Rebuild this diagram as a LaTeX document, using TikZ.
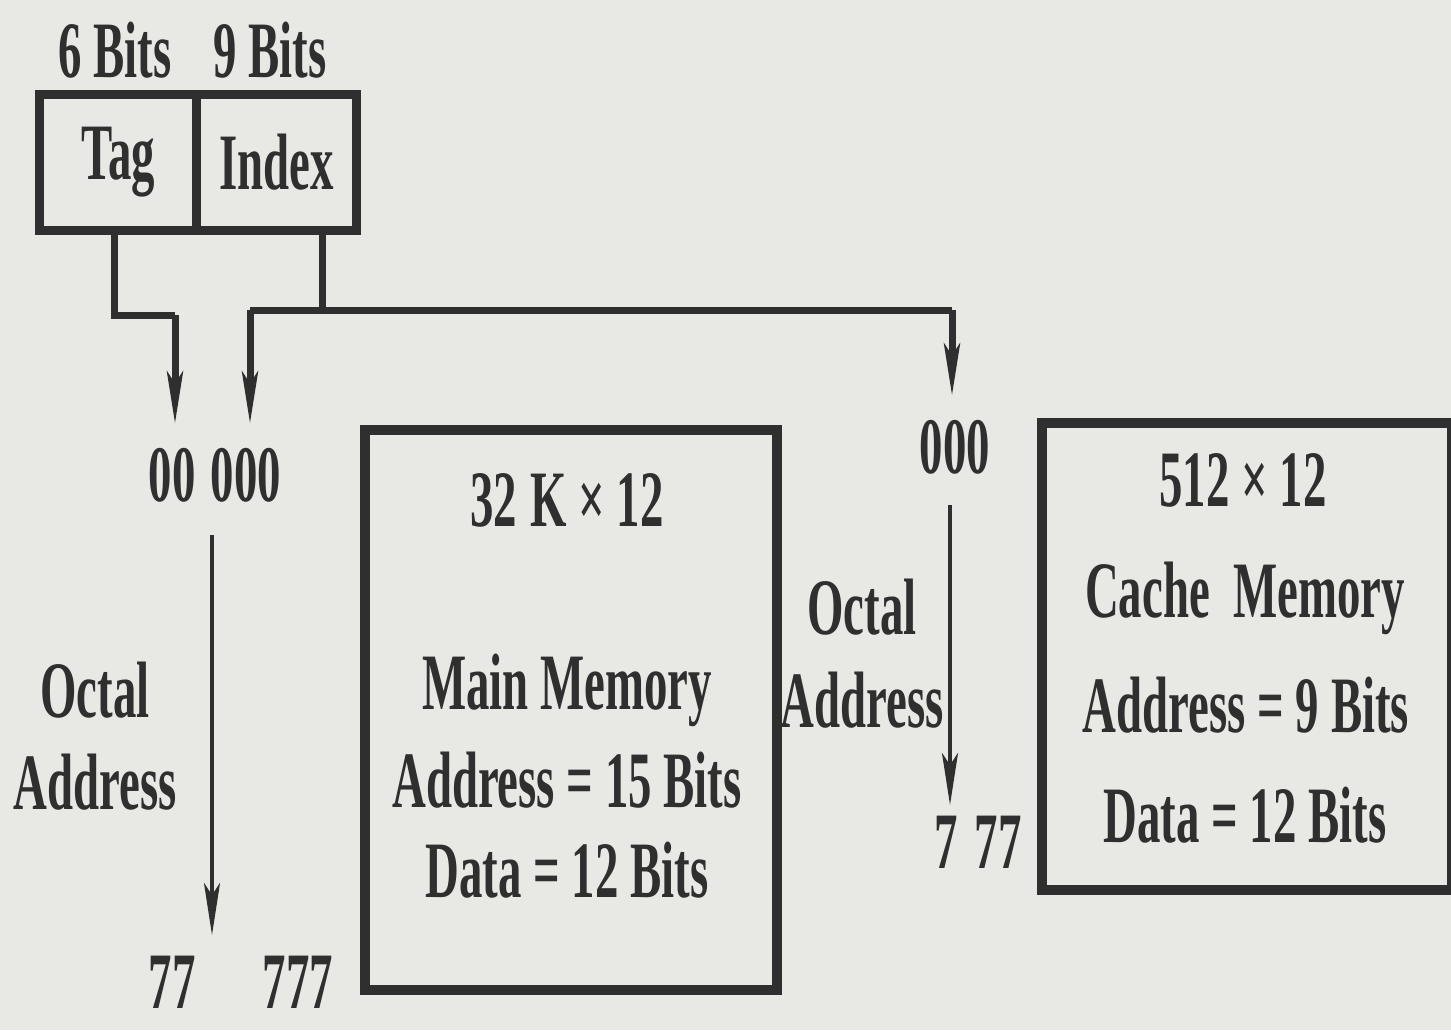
\documentclass[tikz,border=0pt]{standalone}
\usepackage{fontspec}
\setmainfont{Liberation Serif}[FakeStretch=0.585]
\usetikzlibrary{arrows.meta,positioning}

\definecolor{paper}{HTML}{E8E8E5}
\definecolor{ink}{HTML}{2F2F2F}

\tikzset{
  txt/.style={font={\fontsize{40}{45}\selectfont\bfseries}, text=ink, inner sep=0pt},
  field/.style={draw=ink, line width=4.5pt, rectangle, anchor=north west,
    minimum height=68pt, inner sep=0pt, font={\fontsize{40}{45}\selectfont\bfseries}, text=ink},
  membox/.style={draw=ink, line width=5pt, rectangle, anchor=north west, inner sep=0pt},
  bus/.style={draw=ink, line width=3.5pt},
  arrowend/.style={-{Stealth[length=26pt,width=8pt,inset=6pt]}},
  rangeline/.style={draw=ink, line width=2.2pt}
}

\begin{document}
\begin{tikzpicture}[x=0.5pt, y=-0.5pt]

\fill[paper] (0,0) rectangle (1451,1030);
\useasboundingbox (0,0) rectangle (1451,1030);

% address word
\node [field, minimum width=78.5pt] (tag) at (35,90) {Tag};
\node [field, minimum width=80pt] (index) at (192,90) {Index};

\node [txt] (tagbits) at (115,50) {6 Bits};
\node [txt] (idxbits) at (270,50) {9 Bits};

% main memory side
\node [txt] (mm0a) at (172,475) {00};
\node [txt] (mm0b) at (246,475) {000};
\node [txt] (mmendA) at (172,982) {77};
\node [txt] (mmendB) at (298,982) {777};

\node [txt] (moct) at (95,690) {Octal};
\node [txt] (maddr) at (95,782) {Address};

\coordinate (mtop) at (212,535);
\coordinate (mbot) at (212,935);
\draw [rangeline, arrowend] (mtop) -- (mbot);

\node [membox, minimum width=206pt, minimum height=280pt] (mainmem) at (360,425) {};

\node [txt] (mmsize) at (567,500) {32\,K × 12};
\node [txt] (mmname) at (567,690) {Main Memory};
\node [txt] (mmaddr) at (567,780) {Address = 15 Bits};
\node [txt] (mmdata) at (567,870) {Data = 12 Bits};

% cache side
\node [txt] (coct) at (862,607) {Octal};
\node [txt] (caddr) at (862,700) {Address};

\node [txt] (c0) at (955,447) {000};
\node [txt] (cendA) at (946,842) {7};
\node [txt] (cendB) at (998,842) {77};

\coordinate (ctop) at (950,505);
\coordinate (cbot) at (950,805);
\draw [rangeline, arrowend] (ctop) -- (cbot);

\node [membox, minimum width=205pt, minimum height=233.5pt] (cache) at (1037,418) {};

\node [txt] (csize) at (1243,480) {512 × 12};
\node [txt] (cname) at (1245,598) {Cache\ \ Memory};
\node [txt] (caddrb) at (1246,705) {Address = 9 Bits};
\node [txt] (cdata) at (1245,815) {Data = 12 Bits};

% connectors
\coordinate (tagbend) at (175,315);
\coordinate (busleft) at (250,310);
\coordinate (busright) at (952,310);

\draw [bus] ([xshift=-2pt]tag.south) |- (tagbend);
\draw [bus, arrowend] (tagbend) -- ([yshift=12pt]mm0a.north -| tagbend);

\draw [bus] ([xshift=23pt]index.south) -- ([xshift=23pt]index.south |- busleft);
\draw [bus] (busleft) -- (busright);
\draw [bus, arrowend] (busleft) -- ([yshift=12pt]mm0b.north -| busleft);
\draw [bus, arrowend] (busright) -- ([yshift=12pt]c0.north -| busright);

\end{tikzpicture}
\end{document}
